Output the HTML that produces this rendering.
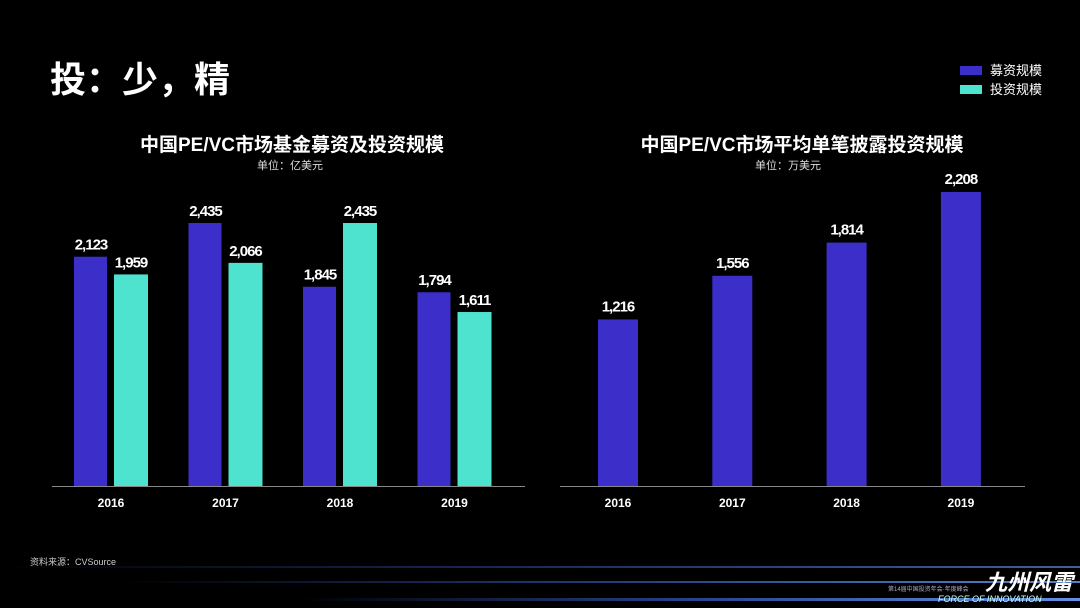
<!DOCTYPE html>
<html><head><meta charset="utf-8"><style>
body{margin:0;width:1080px;height:608px;background:#000;overflow:hidden;font-family:"Liberation Sans","Noto Sans CJK SC",sans-serif;color:#fff}
svg{position:absolute;left:0;top:0}
</style></head><body>
<svg width="1080" height="608">
<defs><linearGradient id="gl" x1="0" x2="1"><stop offset="0" stop-color="#000"/><stop offset="0.5" stop-color="#2a4a9a"/><stop offset="1" stop-color="#6fa0ff"/></linearGradient></defs>
<text x="50" y="92" font-size="36" font-weight="bold" fill="#fff" font-family="Liberation Sans,Noto Sans CJK SC,sans-serif">投：少，精</text>
<g>
<rect x="960" y="66" width="22" height="9" fill="#3c2fc9"/>
<text x="990" y="75" font-size="13" fill="#fff" font-family="Liberation Sans,Noto Sans CJK SC,sans-serif">募资规模</text>
<rect x="960" y="85" width="22" height="9" fill="#4de3cf"/>
<text x="990" y="94" font-size="13" fill="#fff" font-family="Liberation Sans,Noto Sans CJK SC,sans-serif">投资规模</text>
</g>
<text x="292" y="151" text-anchor="middle" font-size="19" font-weight="bold" fill="#fff" font-family="Liberation Sans,Noto Sans CJK SC,sans-serif">中国PE/VC市场基金募资及投资规模</text>
<text x="290" y="169" text-anchor="middle" font-size="11" fill="#ddd" font-family="Liberation Sans,Noto Sans CJK SC,sans-serif">单位：亿美元</text>
<text x="802" y="151" text-anchor="middle" font-size="19" font-weight="bold" fill="#fff" font-family="Liberation Sans,Noto Sans CJK SC,sans-serif">中国PE/VC市场平均单笔披露投资规模</text>
<text x="788" y="169" text-anchor="middle" font-size="11" fill="#ddd" font-family="Liberation Sans,Noto Sans CJK SC,sans-serif">单位：万美元</text>
<line x1="52" y1="486.5" x2="525" y2="486.5" stroke="#888"/>
<line x1="560" y1="486.5" x2="1025" y2="486.5" stroke="#888"/>
<g id="lc"></g><g id="rc"></g>
<text x="30" y="565" font-size="9" fill="#ccc" font-family="Liberation Sans,Noto Sans CJK SC,sans-serif">资料来源：CVSource</text>
<g>
<rect x="0" y="566" width="1080" height="2" fill="url(#gl)" opacity="0.6"/>
<rect x="120" y="581" width="960" height="2" fill="url(#gl)" opacity="0.8"/>
<rect x="300" y="598" width="780" height="3" fill="url(#gl)" opacity="0.9"/>
<text x="985" y="590" font-size="22" font-style="italic" font-weight="bold" fill="#fff" font-family="Liberation Sans,Noto Sans CJK SC,sans-serif">九州风雷</text>
<text x="938" y="602" font-size="9" font-style="italic" fill="#cfe" font-family="Liberation Sans,sans-serif">FORCE OF INNOVATION</text>
<text x="888" y="591" font-size="6" fill="#aac" font-family="Liberation Sans,Noto Sans CJK SC,sans-serif">第14届中国投资年会·年度峰会</text>
</g>
</svg>
<script>
const years=["2016","2017","2018","2019"];
const fundraise=[2123,2435,1845,1794];
const invest=[1959,2066,2435,1611];
const avgDeal=[1216,1556,1814,2208];
const NS="http://www.w3.org/2000/svg";
const base=486;
function yL(v){return base-v*0.108;}
function yR(v){return base-(v+80)*0.1285;}
function fmt(v){return v.toLocaleString("en-US");}
function mk(t,a,p){const e=document.createElementNS(NS,t);for(const k in a)e.setAttribute(k,a[k]);p.appendChild(e);return e;}
const lc=document.getElementById("lc"),rc=document.getElementById("rc");
const lab={"text-anchor":"middle","font-size":15,"font-weight":"bold",fill:"#fff","letter-spacing":"-1"};
years.forEach((yr,i)=>{
 const cx=111+i*114.5;
 const b1=mk("rect",{x:cx-37,y:yL(fundraise[i]),width:33,height:base-yL(fundraise[i]),fill:"#3c2fc9"},lc);
 
 
 const b2=mk("rect",{x:cx+3,y:yL(invest[i]),width:34,height:base-yL(invest[i]),fill:"#4de3cf"},lc);
 
 
 const t1=mk("text",Object.assign({x:cx-20,y:yL(fundraise[i])-7},lab),lc);t1.textContent=fmt(fundraise[i]);
 
 
 const t2=mk("text",Object.assign({x:cx+20,y:yL(invest[i])-7},lab),lc);t2.textContent=fmt(invest[i]);
 
 
 const tx=mk("text",{x:cx,y:507,"text-anchor":"middle","font-size":12,"font-weight":"bold",fill:"#fff"},lc);tx.textContent=yr;
 
 
 const rx=618+i*114.3;
 const b3=mk("rect",{x:rx-20,y:yR(avgDeal[i]),width:40,height:base-yR(avgDeal[i]),fill:"#3c2fc9"},rc);
 
 
 const t3=mk("text",Object.assign({x:rx,y:yR(avgDeal[i])-8},lab),rc);t3.textContent=fmt(avgDeal[i]);
 
 
 const tr=mk("text",{x:rx,y:507,"text-anchor":"middle","font-size":12,"font-weight":"bold",fill:"#fff"},rc);tr.textContent=yr;
 
 
});
</script>
</body></html>
